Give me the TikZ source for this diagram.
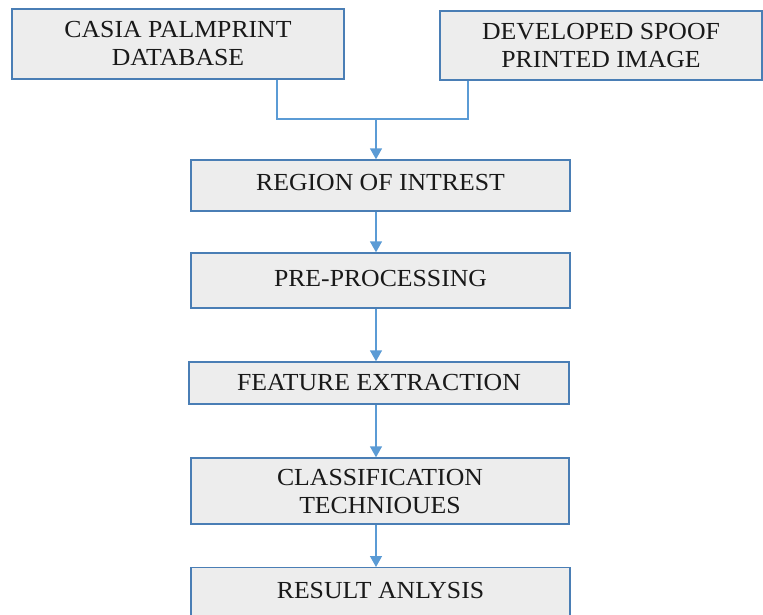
\documentclass[tikz,border=0pt]{standalone}
\usepackage{fontspec}
\setmainfont{Liberation Serif}[FakeStretch=1.05]
\usetikzlibrary{arrows.meta}
\definecolor{boxfill}{HTML}{EDEDED}
\definecolor{boxline}{HTML}{4A7EB5}
\definecolor{conn}{HTML}{5B9BD5}
\tikzset{
  stagebox/.style={draw=boxline, line width=1.4pt, fill=boxfill, inner sep=0pt,
    align=center, font=\fontsize{24.5}{28}\selectfont, text=black!90},
  link/.style={draw=conn, line width=1.4pt},
  flow/.style={link, -{Triangle[width=12pt,length=11pt]}}
}
\begin{document}
\begin{tikzpicture}[x=1pt,y=-1pt]
\useasboundingbox (0,0) rectangle (763,614);
\clip (0,0) rectangle (763,614);
\node[stagebox, minimum width=332pt, minimum height=70pt] (casia) at (178,44) {CASIA PALMPRINT\\DATABASE};
\node[stagebox, minimum width=322pt, minimum height=69pt] (spoof) at (601,45.5) {DEVELOPED SPOOF\\PRINTED IMAGE};
\node[stagebox, minimum width=379pt, minimum height=51pt, text depth=8pt, text height=17pt] (roi) at (380.5,185.5) {REGION OF INTREST};
\node[stagebox, minimum width=379pt, minimum height=55pt, text depth=6pt, text height=17pt] (pre) at (380.5,280.5) {PRE-PROCESSING};
\node[stagebox, minimum width=380pt, minimum height=42pt, text depth=2pt, text height=17pt] (feat) at (379,383) {FEATURE EXTRACTION};
\node[stagebox, minimum width=378pt, minimum height=66pt] (cls) at (380,491) {CLASSIFICATION\\TECHNIOUES};
\node[stagebox, minimum width=379pt, anchor=north, inner ysep=14pt, text height=16.5pt, text depth=40pt] (res) at (380.5,567) {RESULT ANLYSIS};
\coordinate (join) at (376,119);
\draw[link] (casia.south -| 277,0) |- (join);
\draw[link] (spoof.south -| 468,0) |- (join);
\draw[flow] (join) -- (join |- roi.north);
\draw[flow] (roi.south -| join) -- (pre.north -| join);
\draw[flow] (pre.south -| join) -- (feat.north -| join);
\draw[flow] (feat.south -| join) -- (cls.north -| join);
\draw[flow] (cls.south -| join) -- (res.north -| join);
\end{tikzpicture}
\end{document}
